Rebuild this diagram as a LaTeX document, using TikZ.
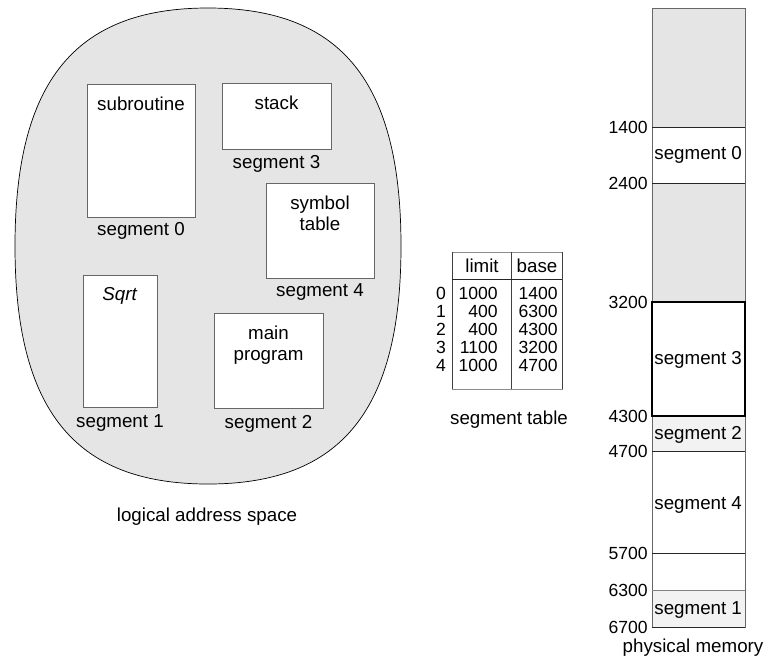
\documentclass[tikz,border=0pt]{standalone}
\usepackage{fontspec}
\setmainfont{Liberation Sans}
\usetikzlibrary{positioning}

\begin{document}
\begin{tikzpicture}[
    x=0.03cm, y=-0.03cm,
    every node/.style={font=\fontsize{16}{18}\selectfont},
    space/.style={draw=black, fill=black!10, line width=0.6pt},
    segbox/.style={rectangle, draw=black!60, fill=white, line width=0.6pt, inner sep=0pt},
    boxtitle/.style={align=center, inner sep=1pt},
    seglabel/.style={inner sep=1pt},
    hole/.style={fill=black!10},
    addr/.style={anchor=east, inner sep=1pt, font=\fontsize{15}{17}\selectfont},
    cell/.style={inner sep=1pt, font=\fontsize{15}{17}\selectfont}
]
    \useasboundingbox (0,0) rectangle (767,666);

    % logical address space
    \draw[space] (401,246) .. controls (401,81.8) and (341.2,8) .. (208,8)
        .. controls (74.8,8) and (15,81.8) .. (15,246)
        .. controls (15,410.2) and (74.8,484) .. (208,484)
        .. controls (341.2,484) and (401,410.2) .. (401,246) -- cycle;

    \node[segbox, minimum width=3.24cm, minimum height=3.99cm] (sub) at (141,150.5) {};
    \node[segbox, minimum width=3.27cm, minimum height=1.98cm] (stack) at (276.5,116) {};
    \node[segbox, minimum width=3.24cm, minimum height=2.85cm] (symtab) at (320,230.5) {};
    \node[segbox, minimum width=2.22cm, minimum height=3.96cm] (sqrt) at (120,341) {};
    \node[segbox, minimum width=3.27cm, minimum height=2.85cm] (main) at (268.5,360.5) {};

    \node[boxtitle, below=10pt of sub.north] (subtxt) {subroutine};
    \node[boxtitle, below=10pt of stack.north] (stacktxt) {stack};
    \node[boxtitle, below=10pt of symtab.north] (symtxt) {symbol\\table};
    \node[boxtitle, below=10pt of sqrt.north] (sqrttxt) {\textit{Sqrt}};
    \node[boxtitle, below=10pt of main.north] (maintxt) {main\\program};

    \node[seglabel, below=3pt of sub] (lsub) {segment 0};
    \node[seglabel, below=4pt of stack] (lstack) {segment 3};
    \node[seglabel, below=3pt of symtab] (lsym) {segment 4};
    \node[seglabel, below=5pt of sqrt] (lsqrt) {segment 1};
    \node[seglabel, below=5pt of main] (lmain) {segment 2};

    \node (logical) at (207,517) {logical address space};

    % segment table
    \draw[black!45] (452,252) rectangle (562,389);
    \draw[black!75] (452,252) -- (452,389) (511,252) -- (511,389) (562,252) -- (562,389);
    \draw[black!85, line width=0.8pt] (452,279) -- (562,279);
    \node[cell, font=\fontsize{16}{18}\selectfont] (hlimit) at (482,266) {limit};
    \node[cell, font=\fontsize{16}{18}\selectfont] (hbase) at (537,266) {base};
    \foreach \i/\lim/\bas in {0/1000/1400, 1/400/6300, 2/400/4300, 3/1100/3200, 4/1000/4700} {
        \node[cell] (idx\i) at (441,293+18.2*\i) {\i};
        \node[cell, anchor=east] (lim\i) at (499,293+18.2*\i) {\lim};
        \node[cell, anchor=east] (bas\i) at (559,293+18.2*\i) {\bas};
    }
    \node (segtable) at (509,420) {segment table};

    % physical memory
    \fill[hole] (652,8) rectangle (745,127);
    \fill[hole] (652,183) rectangle (745,302);
    \fill[black!5] (652,416) rectangle (745,451);
    \fill[black!5] (652,590) rectangle (745,627);
    \draw[black!60] (652,8) rectangle (745,627);
    \foreach \y in {127,183,451,553,627}
        \draw[black!85] (652,\y) -- (745,\y);
    \draw[black!50] (652,590) -- (745,590);
    \draw[line width=1.2pt] (652,302) rectangle (745,416);

    \foreach \addr/\y in {1400/127, 2400/183, 3200/302, 4300/416, 4700/451, 5700/553, 6300/590, 6700/627}
        \node[addr] (a\addr) at (649,\y) {\addr};

    \node[seglabel, anchor=west] (m0) at (653,155) {segment 0};
    \node[seglabel, anchor=west] (m3) at (653,360) {segment 3};
    \node[seglabel, anchor=west] (m2) at (653,435) {segment 2};
    \node[seglabel, anchor=west] (m4) at (653,505) {segment 4};
    \node[seglabel, anchor=west] (m1) at (653,610) {segment 1};

    \node (physical) at (693,648) {physical memory};
\end{tikzpicture}
\end{document}
